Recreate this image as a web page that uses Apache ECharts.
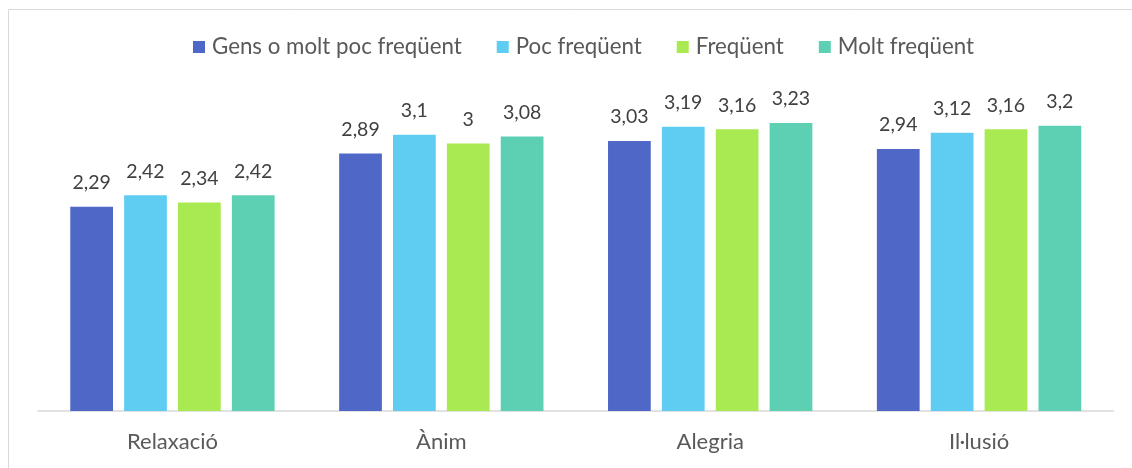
<!DOCTYPE html>
<html>
<head>
<meta charset="utf-8">
<script src="https://cdn.jsdelivr.net/npm/echarts@6/dist/echarts.min.js"></script>
<style>
html,body{margin:0;padding:0;background:#fff;}
#c{width:1132px;height:468px;}
</style>
</head>
<body>
<div id="c"></div>
<script>
const categories = ['Relaxació', 'Ànim', 'Alegria', 'Il·lusió'];
const seriesNames = ['Gens o molt poc freqüent', 'Poc freqüent', 'Freqüent', 'Molt freqüent'];
const gensValues = [2.29, 2.89, 3.03, 2.94];
const pocValues = [2.42, 3.1, 3.19, 3.12];
const freqValues = [2.34, 3, 3.16, 3.16];
const moltValues = [2.42, 3.08, 3.23, 3.2];
const colors = ['#4F68C8', '#5FCDF2', '#A9EA52', '#5DCFB3'];

const FONT = 'Lato';
const allValues = [gensValues, pocValues, freqValues, moltValues];

const chart = echarts.init(document.getElementById('c'));
chart.setOption({
  animation: false,
  textStyle: { fontFamily: FONT },
  graphic: [{
    type: 'rect',
    shape: { x: 8.5, y: 9.5, width: 1130, height: 470 },
    style: { fill: 'none', stroke: '#d9d9d9', lineWidth: 1 },
    silent: true
  }],
  legend: {
    top: 31,
    left: 188,
    itemWidth: 12,
    itemHeight: 12,
    itemGap: 35,
    icon: 'rect',
    textStyle: { fontFamily: FONT, fontSize: 22.3, color: '#595959', padding: [0, 0, 0, 2] },
    data: seriesNames
  },
  grid: { left: 38, right: 18.5, top: 99, bottom: 57 },
  xAxis: {
    type: 'category',
    data: categories,
    axisLine: { lineStyle: { color: '#d9d9d9', width: 1.5 } },
    axisTick: { show: false },
    axisLabel: { fontFamily: FONT, fontSize: 22, color: '#595959', margin: 20 }
  },
  yAxis: {
    type: 'value',
    min: 0,
    max: 3.5,
    show: false
  },
  series: seriesNames.map((name, i) => ({
    name: name,
    type: 'bar',
    data: allValues[i],
    barGap: '26%',
    barCategoryGap: '24%',
    itemStyle: { color: colors[i] },
    label: {
      show: true,
      position: 'top',
      distance: 14,
      fontFamily: FONT,
      fontSize: 19.5,
      color: '#404040',
      formatter: p => String(p.value).replace('.', ',')
    }
  }))
});
</script>
</body>
</html>
